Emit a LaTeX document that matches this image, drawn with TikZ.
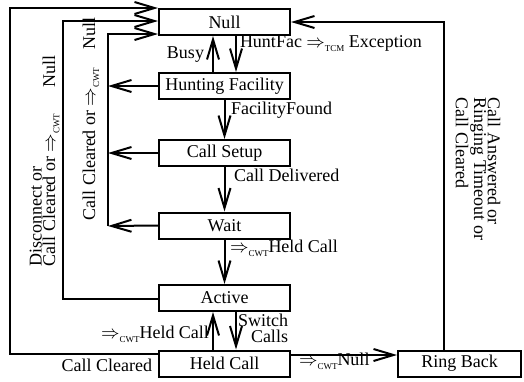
\documentclass[tikz,border=0pt]{standalone}
\usepackage{fontspec}
\setmainfont{Liberation Serif}
\usetikzlibrary{arrows.meta, calc}
\newcommand{\trig}[1]{$\Rightarrow$\raisebox{-0.5ex}{\fontsize{4.5}{5}\selectfont #1}}

\begin{document}
\begin{tikzpicture}[
    x=0.5pt, y=-0.5pt,
    font=\fontsize{9}{10}\selectfont,
    line width=1pt,
    state/.style={draw, line width=1pt, minimum width=#1,
        minimum height=13pt, inner sep=0pt, align=center},
    state/.default=65.5pt,
    arr/.style={-{Straight Barb[length=10pt, width=6pt]}},
    lbl/.style={inner sep=1pt},
    side/.style={inner sep=0pt, align=left,
        font=\fontsize{9}{6.8}\selectfont},
  ]
  \useasboundingbox (0,0) rectangle (524,381);
  \node[side, rotate=90] (outer_txt) at (44.5,161) {Disconnect or\\Call Cleared or \trig{CWT}\hspace{13pt}Null};
  \node[side, rotate=90] (inner_txt) at (91,119) {Call Cleared or \trig{CWT}\hspace{9pt}Null};
  \node[side, rotate=-90] (right_txt) at (478,169) {Call Answered or\\Ringing Timeout or\\Call Cleared};
  \node[state] (null) at (224.5,22) {Null};
  \node[state] (hunting_facility) at (224.5,86) {Hunting Facility};
  \node[state] (call_setup) at (224.5,153) {Call Setup};
  \node[state] (wait) at (224.5,225.5) {Wait};
  \node[state] (active) at (224.5,298) {Active};
  \node[state] (held_call) at (224.5,363.5) {Held Call};
  \node[state=61.5pt] (ring_back) at (459.5,363.5) {Ring Back};
  \coordinate (outer_tl) at (10,8);
  \coordinate (middle_tl) at (63,21);
  \coordinate (inner_top) at (108,34);
  \coordinate (inner_bot) at (108,226);
  \draw[arr] ([xshift=-5.75pt]hunting_facility.north) -- ([xshift=-5.75pt]null.south);
  \draw[arr] ([xshift=5.75pt]null.south) -- ([xshift=5.75pt]hunting_facility.north);
  \draw[arr] (hunting_facility) -- (call_setup);
  \draw[arr] (call_setup) -- (wait);
  \draw[arr] (wait) -- (active);
  \draw[arr] ([xshift=-5.75pt]held_call.north) -- ([xshift=-5.75pt]active.south);
  \draw[arr] ([xshift=5.75pt]active.south) -- ([xshift=5.75pt]held_call.north);
  \draw[arr] ([yshift=4.75pt]held_call.west) -| (outer_tl) -- ([yshift=7pt]null.west);
  \draw[arr] ([yshift=-0.5pt]active.west) -| (middle_tl) -- ([yshift=0.5pt]null.west);
  \draw[arr] (hunting_facility.west) -- (hunting_facility.west -| inner_bot);
  \draw[arr] (call_setup.west) -- (call_setup.west -| inner_bot);
  \draw[arr] (wait.west) -- (inner_bot);
  \draw[arr] (inner_bot) -- (inner_top) -- ([yshift=-6pt]null.west);
  \draw[arr] ([xshift=-7.75pt]ring_back.north) |- (null.east);
  \draw[arr] ([yshift=4.25pt]held_call.east) -- ([yshift=4.25pt]ring_back.west);
  \node[lbl, anchor=east] (busy) at (207,55) {Busy};
  \node[lbl, anchor=west] (huntfac) at (237,44) {HuntFac \trig{TCM} Exception};
  \node[lbl, anchor=west] (found) at (228,110) {FacilityFound};
  \node[lbl, anchor=west] (delivered) at (231,175) {Call Delivered};
  \node[lbl, anchor=west] (held_fwd) at (227,248) {\trig{CWT}Held Call};
  \node[lbl, anchor=east] (held_back) at (212,334) {\trig{CWT}Held Call};
  \node[lbl, anchor=east, align=right, font=\fontsize{9}{8}\selectfont] (switch) at (291,328) {Switch\\Calls};
  \node[lbl, anchor=east] (cleared) at (155,365) {Call Cleared};
  \node[lbl, anchor=west] (rb_null) at (296,361) {\trig{CWT}Null};
\end{tikzpicture}
\end{document}
